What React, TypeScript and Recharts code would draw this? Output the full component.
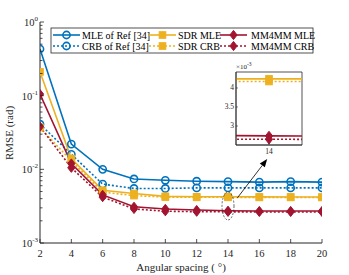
import React from "react";
import {
  LineChart,
  Line,
  XAxis,
  YAxis,
  ReferenceDot,
  ReferenceLine,
  ReferenceArea,
  Customized,
} from "recharts";

// ---------- data ----------
const spacing = [2, 4, 6, 8, 10, 12, 14, 16, 18, 20];
const mleRef = [0.43, 0.022, 0.01, 0.0074, 0.0071, 0.0069, 0.0068, 0.0067, 0.0068, 0.0067];
const crbRef = [0.041, 0.016, 0.0063, 0.0055, 0.0055, 0.0056, 0.0056, 0.0056, 0.0056, 0.0056];
const sdrMle = [0.21, 0.014, 0.0052, 0.0047, 0.0043, 0.00424, 0.00424, 0.00423, 0.00422, 0.00421];
const sdrCrb = [0.037, 0.013, 0.0049, 0.0044, 0.0042, 0.00417, 0.00417, 0.00416, 0.00416, 0.00415];
const mmMle = [0.105, 0.012, 0.0045, 0.0031, 0.0029, 0.0028, 0.00274, 0.00272, 0.00272, 0.00272];
const mmCrb = [0.038, 0.0105, 0.0042, 0.0029, 0.0027, 0.00266, 0.00265, 0.00264, 0.00264, 0.00264];

const xTicks = [2, 4, 6, 8, 10, 12, 14, 16, 18, 20];
const yMajorTicks = [0.001, 0.01, 0.1, 1];
const insetYTicks = [0.003, 0.0035, 0.004];
const insetYLabels = ["3", "3.5", "4"];
const insetXTicks = [14];
const INSET_X_DOMAIN = [13.8, 14.2];
const INSET_Y_DOMAIN = [0.0025, 0.00442];

const data = spacing.map((s, i) => ({
  x: s,
  mleRef: mleRef[i],
  crbRef: crbRef[i],
  sdrMle: sdrMle[i],
  sdrCrb: sdrCrb[i],
  mmMle: mmMle[i],
  mmCrb: mmCrb[i],
}));

// all log ticks (major + minor)
const yAllTicks: number[] = [];
yMajorTicks.forEach((m, i) => {
  yAllTicks.push(m);
  if (i < yMajorTicks.length - 1) for (let k = 2; k <= 9; k++) yAllTicks.push(+(m * k).toPrecision(3));
});

// ---------- style ----------
const BLUE = "#0072BD";
const YELLOW = "#EDB120";
const RED = "#A2142F";
const AX = "#262626";
const FONT = "'Liberation Serif', 'Times New Roman', serif";
const DOTTED = "2 2";

type MarkerKind = "circle" | "square" | "diamond";

const series = [
  { key: "mleRef", name: "MLE of Ref [34]", color: BLUE, dash: undefined as string | undefined, marker: "circle" as MarkerKind },
  { key: "crbRef", name: "CRB of Ref [34]", color: BLUE, dash: DOTTED, marker: "circle" as MarkerKind },
  { key: "sdrMle", name: "SDR MLE", color: YELLOW, dash: undefined, marker: "square" as MarkerKind },
  { key: "sdrCrb", name: "SDR CRB", color: YELLOW, dash: DOTTED, marker: "square" as MarkerKind },
  { key: "mmMle", name: "MM4MM MLE", color: RED, dash: undefined, marker: "diamond" as MarkerKind },
  { key: "mmCrb", name: "MM4MM CRB", color: RED, dash: DOTTED, marker: "diamond" as MarkerKind },
];

function Marker({ kind, cx, cy, color }: { kind: MarkerKind; cx: number; cy: number; color: string }) {
  if (kind === "circle")
    return <circle cx={cx} cy={cy} r={3.6} fill="none" stroke={color} strokeWidth={1.6} />;
  if (kind === "square")
    return <rect x={cx - 3.3} y={cy - 3.3} width={6.6} height={6.6} fill={color} stroke={color} strokeWidth={1} />;
  return (
    <polygon
      points={`${cx},${cy - 4.6} ${cx + 3.6},${cy} ${cx},${cy + 4.6} ${cx - 3.6},${cy}`}
      fill={color}
      stroke={color}
      strokeWidth={1}
    />
  );
}

const makeDot = (kind: MarkerKind, color: string) => (props: any) => {
  const { cx, cy, index } = props;
  if (cx == null || cy == null) return <g key={index} />;
  return (
    <g key={index}>
      <Marker kind={kind} cx={cx} cy={cy} color={color} />
    </g>
  );
};

// ---------- ticks ----------
const isDecade = (v: number) => yMajorTicks.some((m) => Math.abs(m - v) / m < 1e-6);

const LeftTick = (props: any) => {
  const { x, y, payload } = props;
  const v = payload.value;
  const major = isDecade(v);
  const exp = Math.round(Math.log10(v));
  return (
    <g>
      <line x1={x} x2={x + (major ? 4 : 2.5)} y1={y} y2={y} stroke={AX} strokeWidth={0.8} />
      {major && (
        <text x={x - 2} y={y + 4} textAnchor="end" fontFamily={FONT} fontSize={10.5} fill={AX}>
          10
          <tspan dy={-5} fontSize={7}>
            {exp === 0 ? "0" : `-${Math.abs(exp)}`}
          </tspan>
        </text>
      )}
    </g>
  );
};

const RightTick = (props: any) => {
  const { x, y, payload } = props;
  const major = isDecade(payload.value);
  return <line x1={x} x2={x - (major ? 4 : 2.5)} y1={y} y2={y} stroke={AX} strokeWidth={0.8} />;
};

const BottomTick = (props: any) => {
  const { x, y, payload } = props;
  return (
    <g>
      <line x1={x} x2={x} y1={y} y2={y - 4} stroke={AX} strokeWidth={0.8} />
      <text x={x} y={y + 14} textAnchor="middle" fontFamily={FONT} fontSize={10.5} fill={AX}>
        {payload.value}
      </text>
    </g>
  );
};

const TopTick = (props: any) => {
  const { x, y } = props;
  return <line x1={x} x2={x} y1={y} y2={y + 4} stroke={AX} strokeWidth={0.8} />;
};

// inset ticks (labels drawn through reference dots placed with the inset's scale)
const makeInsetYLabel = (label: string) => (props: any) => {
  const { cx, cy } = props;
  return (
    <g>
      <line x1={cx} x2={cx + 2} y1={cy} y2={cy} stroke={AX} strokeWidth={0.6} />
      <text x={cx - 2} y={cy + 2.5} textAnchor="end" fontFamily={FONT} fontSize={7.5} fill={AX}>
        {label}
      </text>
    </g>
  );
};

const InsetBottomTick = (props: any) => {
  const { x, y, payload } = props;
  return (
    <g>
      <line x1={x} x2={x} y1={y} y2={y - 2} stroke={AX} strokeWidth={0.6} />
      <text x={x} y={y + 9} textAnchor="middle" fontFamily={FONT} fontSize={7.5} fill={AX}>
        {payload.value}
      </text>
    </g>
  );
};

// ---------- legend ----------
const LegendBox = () => {
  const bx = 51, by = 28, bw = 262, bh = 25;
  const cols = [
    { lx: 53, tx: 82 },
    { lx: 149, tx: 178 },
    { lx: 220, tx: 251 },
  ];
  const rows = [35, 46];
  const order = [
    [0, 2, 4],
    [1, 3, 5],
  ];
  return (
    <g>
      <rect x={bx} y={by} width={bw} height={bh} fill="#fff" stroke={AX} strokeWidth={0.8} />
      {order.map((row, ri) =>
        row.map((si, ci) => {
          const s = series[si];
          const c = cols[ci];
          const y = rows[ri];
          return (
            <g key={s.key}>
              <line x1={c.lx} x2={c.lx + 27} y1={y} y2={y} stroke={s.color} strokeWidth={1.6} strokeDasharray={s.dash} />
              <Marker kind={s.marker} cx={c.lx + 13.5} cy={y} color={s.color} />
              <text x={c.tx} y={y + 3.5} fontFamily={FONT} fontSize={10} fill="#000">
                {s.name}
              </text>
            </g>
          );
        })
      )}
    </g>
  );
};

const AxisLabels = () => (
  <g>
    <text x={181} y={271} textAnchor="middle" fontFamily={FONT} fontSize={11} fill={AX}>
      Angular spacing ( °)
    </text>
    <text
      x={13}
      y={133}
      textAnchor="middle"
      fontFamily={FONT}
      fontSize={11}
      fill={AX}
      transform="rotate(-90 13 133)"
    >
      RMSE (rad)
    </text>
  </g>
);

const InsetScale = () => (
  <text x={30} y={9} fontFamily={FONT} fontSize={7} fill={AX}>
    ×10
    <tspan dy={-3} fontSize={5.5}>
      -3
    </tspan>
  </text>
);

const Ellipse = (props: any) => {
  const { cx, cy } = props;
  return <ellipse cx={cx} cy={cy} rx={6} ry={14} fill="none" stroke={AX} strokeWidth={0.7} strokeDasharray="2 1.5" />;
};

const Arrow = (props: any) => {
  const { x1, y1, x2, y2 } = props;
  const ang = Math.atan2(y2 - y1, x2 - x1);
  const L = 8, W = 3.2;
  const bx = x2 - L * Math.cos(ang);
  const by = y2 - L * Math.sin(ang);
  const px = -Math.sin(ang) * W;
  const py = Math.cos(ang) * W;
  return (
    <g>
      <line x1={x1} y1={y1} x2={bx} y2={by} stroke="#000" strokeWidth={0.8} />
      <polygon points={`${x2},${y2} ${bx + px},${by + py} ${bx - px},${by - py}`} fill="#000" />
    </g>
  );
};

export default function App() {
  return (
    <div style={{ position: "absolute", left: 0, top: 0, width: 349, height: 275, background: "#fff" }}>
      <LineChart width={349} height={275} data={data} margin={{ top: 22, right: 27, bottom: 0, left: 0 }}>
        <XAxis
          dataKey="x"
          type="number"
          domain={[2, 20]}
          ticks={xTicks}
          interval={0}
          height={32}
          tickSize={0}
          tickMargin={0}
          tick={BottomTick}
          axisLine={{ stroke: AX, strokeWidth: 1 }}
          allowDataOverflow
        />
        <XAxis
          xAxisId="top"
          dataKey="x"
          orientation="top"
          type="number"
          domain={[2, 20]}
          ticks={xTicks}
          interval={0}
          height={0}
          tickSize={0}
          tickMargin={0}
          tick={TopTick}
          axisLine={{ stroke: AX, strokeWidth: 1 }}
          allowDataOverflow
        />
        <YAxis
          type="number"
          scale="log"
          domain={[0.001, 1]}
          ticks={yAllTicks}
          interval={0}
          width={40}
          tickSize={0}
          tickMargin={0}
          tick={LeftTick}
          axisLine={{ stroke: AX, strokeWidth: 1 }}
          allowDataOverflow
        />
        <YAxis
          yAxisId="right"
          orientation="right"
          type="number"
          scale="log"
          domain={[0.001, 1]}
          ticks={yAllTicks}
          interval={0}
          width={0}
          tickSize={0}
          tickMargin={0}
          tick={RightTick}
          axisLine={{ stroke: AX, strokeWidth: 1 }}
          allowDataOverflow
        />
        {series.map((s) => (
          <Line
            key={s.key}
            dataKey={s.key}
            stroke={s.color}
            strokeWidth={1.6}
            strokeDasharray={s.dash}
            dot={makeDot(s.marker, s.color)}
            activeDot={false}
            isAnimationActive={false}
          />
        ))}
        <ReferenceDot x={14} y={0.00318} r={6} shape={Ellipse} ifOverflow="visible" />
        <ReferenceLine
          segment={[
            { x: 14.6, y: 0.0041 },
            { x: 16.5, y: 0.0138 },
          ]}
          shape={Arrow}
          ifOverflow="visible"
        />
        <Customized component={LegendBox} />
        <Customized component={AxisLabels} />
      </LineChart>

      <div style={{ position: "absolute", left: 206, top: 60 }}>
        <LineChart width={100} height={100} data={data} margin={{ top: 12, right: 4, bottom: 0, left: 0 }}>
          <XAxis
            dataKey="x"
            type="number"
            domain={INSET_X_DOMAIN}
            ticks={insetXTicks}
            interval={0}
            height={15}
            tickSize={0}
            tickMargin={0}
            tick={InsetBottomTick}
            axisLine={{ stroke: AX, strokeWidth: 0.8 }}
            allowDataOverflow
          />
          <YAxis
            type="number"
            domain={INSET_Y_DOMAIN}
            ticks={insetYTicks}
            interval={0}
            width={30}
            tick={false}
            tickLine={false}
            axisLine={{ stroke: AX, strokeWidth: 0.8 }}
            allowDataOverflow
          />
          <ReferenceArea
            x1={INSET_X_DOMAIN[0]}
            x2={INSET_X_DOMAIN[1]}
            y1={INSET_Y_DOMAIN[0]}
            y2={INSET_Y_DOMAIN[1]}
            fill="#fff"
            fillOpacity={1}
            stroke={AX}
            strokeWidth={0.8}
          />
          {series.map((s) => (
            <Line
              key={s.key}
              dataKey={s.key}
              stroke={s.color}
              strokeWidth={1.6}
              strokeDasharray={s.dash}
              dot={makeDot(s.marker, s.color)}
              activeDot={false}
              isAnimationActive={false}
            />
          ))}
          {insetYTicks.map((t, i) => (
            <ReferenceDot
              key={`yt${i}`}
              x={INSET_X_DOMAIN[0]}
              y={t}
              r={1}
              shape={makeInsetYLabel(insetYLabels[i])}
              ifOverflow="visible"
            />
          ))}
          <Customized component={InsetScale} />
        </LineChart>
      </div>
    </div>
  );
}
